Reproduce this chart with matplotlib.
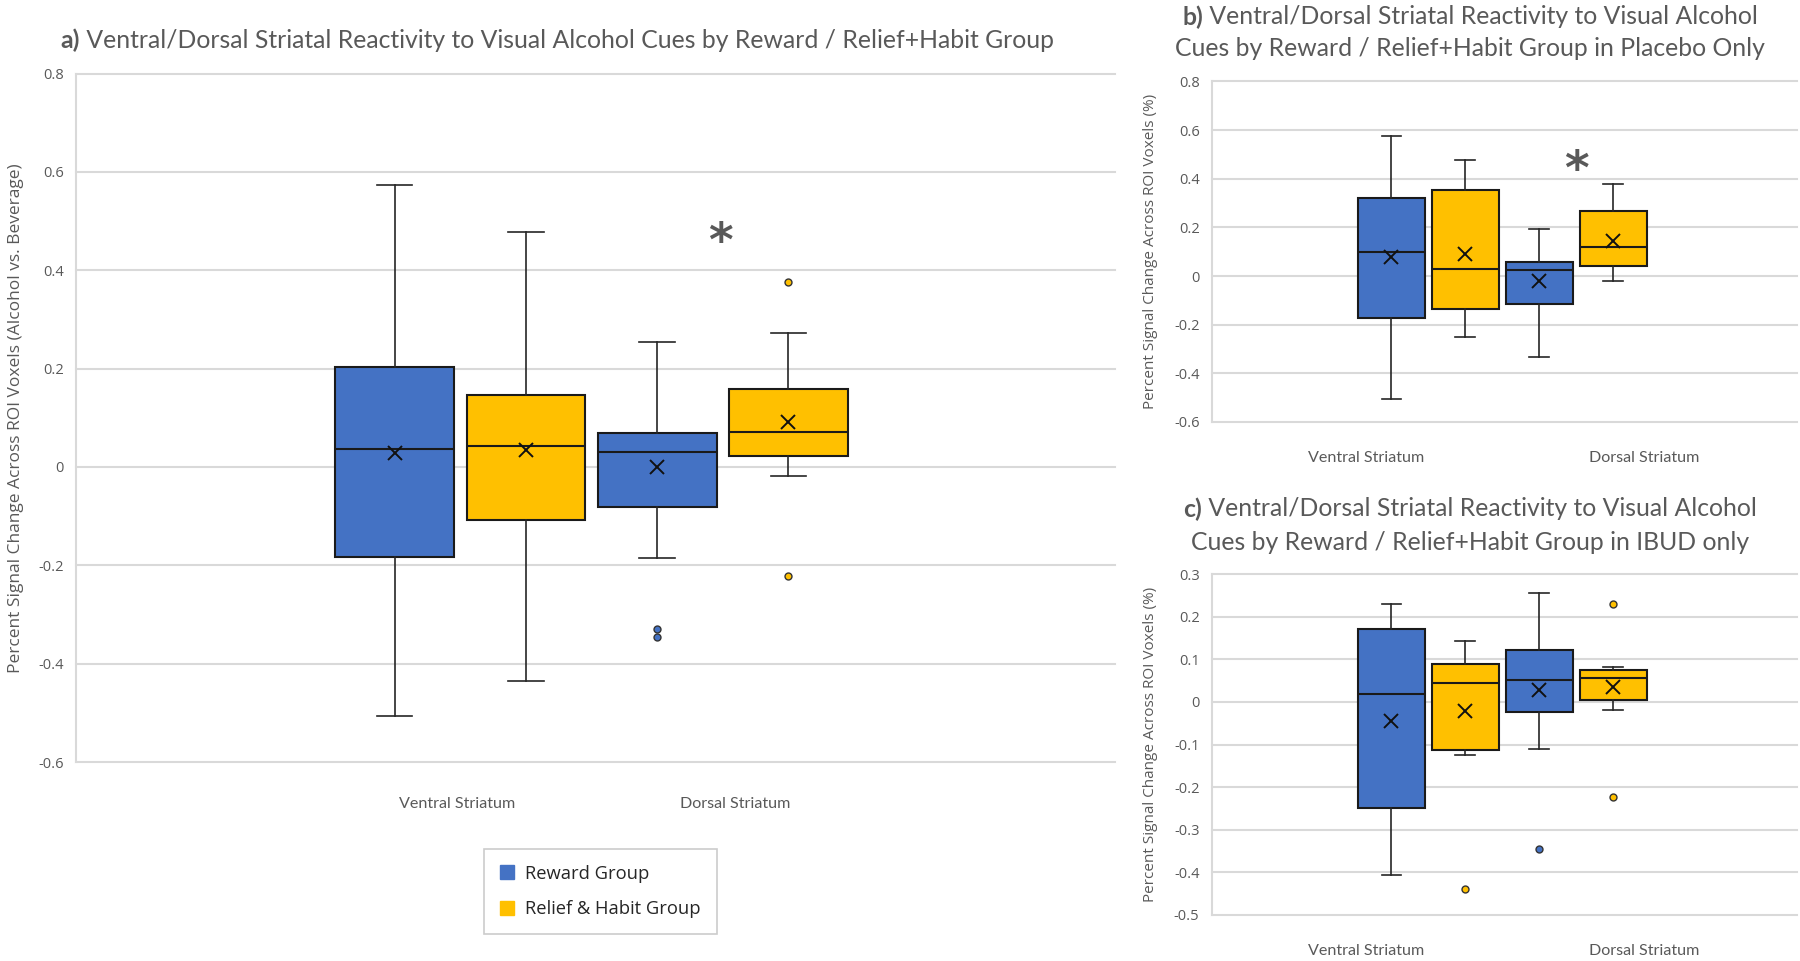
import matplotlib
matplotlib.use("Agg")
import matplotlib.pyplot as plt
from matplotlib.lines import Line2D
import numpy as np

plt.rcParams['font.family'] = ['Open Sans', 'DejaVu Sans']
plt.rcParams['axes.unicode_minus'] = False

# ---------------- data ----------------
groups = ["Reward Group", "Relief & Habit Group"]
regions = ["Ventral Striatum", "Dorsal Striatum"]
# order of boxes: Ventral-Reward, Ventral-Relief, Dorsal-Reward, Dorsal-Relief

a_whislo = [-0.507, -0.436, -0.185, -0.019]
a_q1 = [-0.184, -0.107, -0.081, 0.023]
a_med = [0.037, 0.042, 0.031, 0.072]
a_q3 = [0.204, 0.146, 0.068, 0.158]
a_whishi = [0.574, 0.478, 0.255, 0.272]
a_mean = [0.029, 0.034, -0.001, 0.091]
a_fliers = [[], [], [-0.330, -0.346], [0.376, -0.221]]

b_whislo = [-0.506, -0.250, -0.333, -0.019]
b_q1 = [-0.172, -0.134, -0.115, 0.042]
b_med = [0.099, 0.029, 0.023, 0.118]
b_q3 = [0.319, 0.355, 0.056, 0.266]
b_whishi = [0.574, 0.478, 0.193, 0.378]
b_mean = [0.078, 0.089, -0.022, 0.146]
b_fliers = [[], [], [], []]

c_whislo = [-0.406, -0.124, -0.111, -0.018]
c_q1 = [-0.250, -0.112, -0.023, 0.005]
c_med = [0.019, 0.045, 0.052, 0.056]
c_q3 = [0.171, 0.090, 0.121, 0.074]
c_whishi = [0.229, 0.142, 0.256, 0.081]
c_mean = [-0.045, -0.021, 0.027, 0.036]
c_fliers = [[], [-0.438], [-0.346], [0.229, -0.222]]

a_ticks = [-0.6, -0.4, -0.2, 0, 0.2, 0.4, 0.6, 0.8]
b_ticks = [-0.6, -0.4, -0.2, 0, 0.2, 0.4, 0.6, 0.8]
c_ticks = [-0.5, -0.4, -0.3, -0.2, -0.1, 0, 0.1, 0.2, 0.3]

# ---------------- style ----------------
BLUE = "#4472C4"
GOLD = "#FFC000"
colors = [BLUE, GOLD, BLUE, GOLD]
GRAY_TXT = "#595959"
GRID = "#d9d9d9"
W, H = 1800, 961
TFAM = ['Lato', 'Liberation Sans', 'DejaVu Sans']

fig = plt.figure(figsize=(18, 9.61), dpi=100)

positions = [1, 2, 3, 4]
XLIM = (-1.43, 6.49)


def make_stats(lo, q1, med, q3, hi, mean, fl):
    return [dict(whislo=lo[i], q1=q1[i], med=med[i], q3=q3[i], whishi=hi[i],
                 mean=mean[i], fliers=fl[i]) for i in range(len(lo))]


def panel(rect, stats, ticks, ylabel, ylabel_size, label_pos, label_pad, ylabel_x, star=None):
    ax = fig.add_axes(rect)
    res = ax.bxp(stats, positions=positions, widths=0.905, capwidths=0.27,
                 patch_artist=True, showmeans=True, showfliers=True,
                 boxprops=dict(edgecolor="#1a1a1a", linewidth=1.5),
                 medianprops=dict(color="#1a1a1a", linewidth=1.5),
                 whiskerprops=dict(color="#262626", linewidth=1.2),
                 capprops=dict(color="#262626", linewidth=1.2),
                 meanprops=dict(marker="x", markersize=10, markeredgecolor="#111111",
                                markeredgewidth=1.4, linestyle="none"),
                 flierprops=dict(marker="o", markersize=5, markeredgecolor="#333333",
                                 markeredgewidth=1.0, linestyle="none"))
    for i, b in enumerate(res["boxes"]):
        b.set_facecolor(colors[i])
        b.set_zorder(3)
    for i, f in enumerate(res["fliers"]):
        f.set_markerfacecolor(colors[i])
        f.set_zorder(4)
    for k in ("medians", "means", "whiskers", "caps"):
        for l in res[k]:
            l.set_zorder(4)
    ax.set_xlim(*XLIM)
    ax.set_ylim(ticks[0], ticks[-1])
    ax.set_yticks(ticks)
    ax.set_yticklabels([("%g" % t) for t in ticks], color=GRAY_TXT, fontsize=10.5)
    ax.set_xticks(label_pos)
    ax.set_xticklabels(regions, color=GRAY_TXT, fontsize=11.6, family=TFAM)
    ax.tick_params(axis="y", length=0, pad=9)
    ax.tick_params(axis="x", length=0, pad=label_pad)
    ax.grid(axis="y", color=GRID, linewidth=1.5, zorder=0)
    ax.set_axisbelow(True)
    for s in ("top", "right", "bottom"):
        ax.spines[s].set_visible(False)
    ax.spines["left"].set_color(GRID)
    ax.spines["left"].set_linewidth(1.5)
    for gl in ax.yaxis.get_gridlines():
        gl.set_clip_on(False)
    ax.set_ylabel(ylabel, color=GRAY_TXT, fontsize=ylabel_size)
    ax.yaxis.set_label_coords(ylabel_x, 0.5)
    if star is not None:
        ax.text(star[0], star[1], "*", ha="center", va="center", fontsize=34,
                fontweight="bold", color=GRAY_TXT, family=['DejaVu Sans'])
    return ax


sa = make_stats(a_whislo, a_q1, a_med, a_q3, a_whishi, a_mean, a_fliers)
sb = make_stats(b_whislo, b_q1, b_med, b_q3, b_whishi, b_mean, b_fliers)
sc = make_stats(c_whislo, c_q1, c_med, c_q3, c_whishi, c_mean, c_fliers)

ax_a = panel([76 / W, 1 - 762 / H, (1115 - 76) / W, (762 - 73.5) / H], sa, a_ticks,
             "Percent Signal Change Across ROI Voxels (Alcohol vs. Beverage)", 12.5,
             [1.472, 3.597], 25, -0.050, star=(3.48, 0.455))
ax_b = panel([1212 / W, 1 - 422 / H, (1797 - 1212) / W, (422 - 81.5) / H], sb, b_ticks,
             "Percent Signal Change Across ROI Voxels (%)", 11,
             [0.658, 4.416], 21, -0.093, star=(3.5, 0.43))
ax_c = panel([1212 / W, 1 - 915 / H, (1797 - 1212) / W, (915 - 574) / H], sc, c_ticks,
             "Percent Signal Change Across ROI Voxels (%)", 11,
             [0.658, 4.416], 21, -0.093)

# ---------------- titles ----------------
renderer = fig.canvas.get_renderer()


def title_line(cx, cy, prefix, rest, size):
    t1 = fig.text(0, 1 - cy / H, prefix, fontsize=size, fontweight="bold",
                  color=GRAY_TXT, family=TFAM, va="center", ha="left")
    t2 = fig.text(0, 1 - cy / H, rest, fontsize=size, color=GRAY_TXT,
                  family=TFAM, va="center", ha="left")
    w1 = t1.get_window_extent(renderer).width
    w2 = t2.get_window_extent(renderer).width
    x0 = cx - (w1 + w2) / 2
    t1.set_x(x0 / W)
    t2.set_x((x0 + w1) / W)


def title_plain(cx, cy, txt, size):
    fig.text(cx / W, 1 - cy / H, txt, fontsize=size, color=GRAY_TXT, family=TFAM,
             va="center", ha="center")


TS = 17.8
title_line(557, 40, "a)", " Ventral/Dorsal Striatal Reactivity to Visual Alcohol Cues by Reward / Relief+Habit Group", TS)
title_line(1470, 17, "b)", " Ventral/Dorsal Striatal Reactivity to Visual Alcohol", TS)
title_plain(1470, 49, "Cues by Reward / Relief+Habit Group in Placebo Only", TS)
title_line(1470, 509, "c)", " Ventral/Dorsal Striatal Reactivity to Visual Alcohol", TS)
title_plain(1470, 542, "Cues by Reward / Relief+Habit Group in IBUD only", TS)

# ---------------- legend ----------------
handles = [Line2D([0], [0], marker="s", linestyle="none", markersize=10,
                  markerfacecolor=c, markeredgecolor=c) for c in (BLUE, GOLD)]
leg = fig.legend(handles, groups, loc="center", bbox_to_anchor=(0.3335, 0.0725),
                 frameon=True, fancybox=False, edgecolor="#bfbfbf", fontsize=13.2,
                 handlelength=0.8, handletextpad=0.6, borderpad=0.85, labelspacing=0.95)
leg.get_frame().set_linewidth(1.2)
for t in leg.get_texts():
    t.set_color("#262626")

fig.savefig("out.png", dpi=100, facecolor="white")
